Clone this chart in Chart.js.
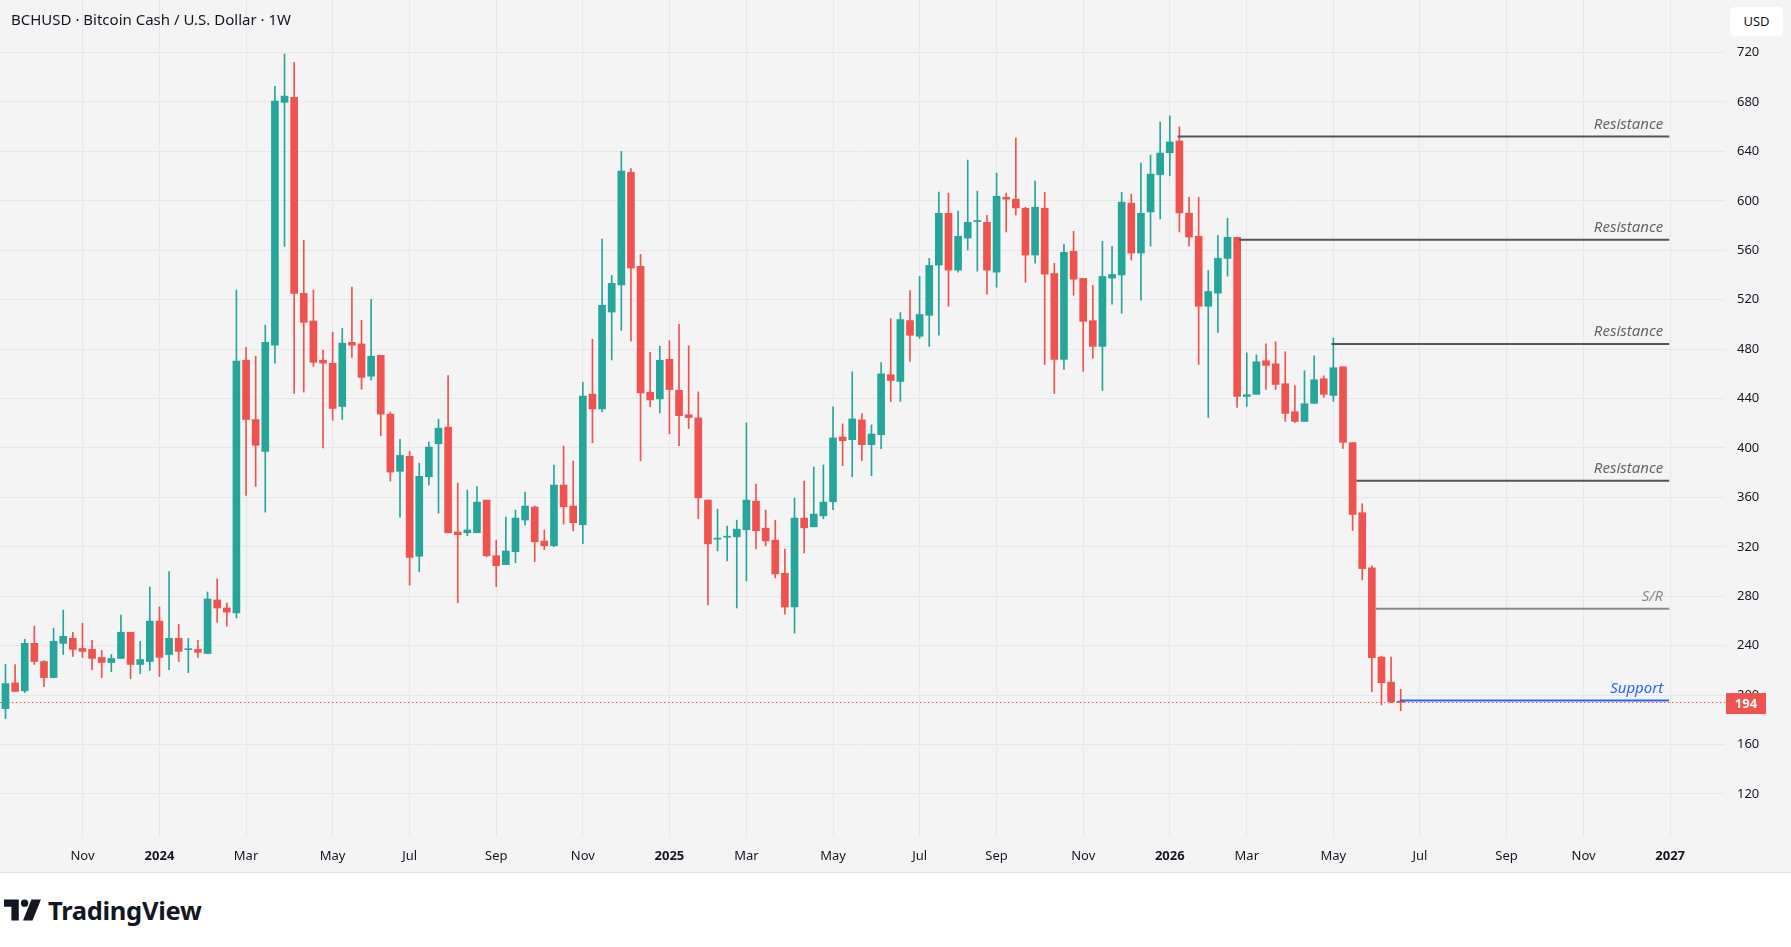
<!DOCTYPE html>
<html>
<head>
<meta charset="utf-8">
<title>BCHUSD 1W</title>
<script src="https://cdn.jsdelivr.net/npm/chart.js@4.4.1/dist/chart.umd.min.js"></script>
<style>
  html, body { margin: 0; padding: 0; background: #fff; }
  body { width: 1791px; height: 947px; overflow: hidden; font-family: "Noto Sans", "DejaVu Sans", sans-serif; }
  #wrap { position: relative; width: 1791px; height: 872px; background: #f4f4f4; border-bottom: 1px solid #e2e2e2; }
  #chart { position: absolute; left: 0; top: 0; }
  #title { position: absolute; left: 11px; top: 9px; font-size: 15px; color: #131722; white-space: nowrap; }
  #unit { position: absolute; left: 1730px; top: 7px; width: 53px; height: 29px; background: #fff; border-radius: 5px;
          font-size: 13px; line-height: 29px; text-align: center; color: #131722; }
  #brand { position: absolute; left: 4px; top: 895px; height: 30px; display: flex; align-items: center; gap: 6px; }
  #brand span { font-size: 25.5px; font-weight: 700; color: #131722; letter-spacing: -0.3px; }
</style>
</head>
<body>
<div id="wrap">
  <canvas id="chart" width="1791" height="872"></canvas>
  <div id="title">BCHUSD · Bitcoin Cash / U.S. Dollar · 1W</div>
  <div id="unit">USD</div>
</div>
<div id="brand">
  <svg width="38" height="26" viewBox="0 0 36 24"><path d="M0 2h14v20H7V9H0z" fill="#131722"/><circle cx="19.5" cy="5.5" r="3.5" fill="#131722"/><path d="M26 2h9l-8 20h-9z" fill="#131722"/></svg>
  <span>TradingView</span>
</div>

<script>
// weekly candles, first bar = week of 2023-09-11
const startDate = '2023-09-11';

const opens = [
  189.1, 209.9, 203.5, 241.9, 227.2, 214.2, 241.9, 246.0, 237.8, 237.0,
  230.5, 226.4, 229.7, 250.9, 224.8, 227.2, 259.9, 232.9, 246.0, 236.8,
  237.0, 233.7, 277.0, 270.5, 266.5, 471.0, 423.0, 397.3, 483.2, 679.7,
  683.7, 525.1, 502.7, 471.0, 468.6, 433.6, 485.5, 484.2, 458.1, 474.9,
  427.4, 381.1, 393.3, 312.4, 376.7, 403.4, 416.8, 332.0, 331.4, 331.4,
  357.8, 312.8, 305.6, 316.1, 341.7, 352.2, 324.7, 320.9, 370.0, 353.0,
  337.9, 443.5, 431.6, 510.0, 531.9, 623.0, 546.9, 445.1, 439.7, 471.8,
  446.7, 426.8, 424.3, 357.8, 326.2, 327.8, 328.1, 333.8, 357.0, 335.1,
  325.4, 298.6, 271.3, 343.2, 336.2, 345.1, 356.5, 408.9, 406.7, 422.7,
  402.7, 410.8, 459.2, 453.8, 503.1, 490.4, 507.4, 548.0, 589.9, 543.9,
  569.9, 583.2, 582.6, 542.3, 602.9, 601.3, 594.0, 556.1, 594.0, 541.2,
  471.7, 559.1, 537.2, 503.0, 482.2, 537.4, 540.0, 598.1, 557.7, 591.0,
  621.1, 638.9, 648.4, 590.0, 571.3, 514.7, 525.3, 553.4, 570.5, 441.7,
  443.4, 470.6, 468.1, 452.0, 429.3, 421.5, 436.1, 456.0, 442.5, 465.7,
  404.3, 347.6, 303.0, 230.8, 210.5, 195.1
];
const highs = [
  224.8, 224.8, 245.2, 255.8, 228.0, 254.2, 268.8, 250.9, 258.2, 244.4,
  236.2, 232.9, 264.8, 250.9, 243.5, 287.6, 271.3, 299.9, 257.4, 246.0,
  244.4, 283.5, 294.1, 274.6, 527.8, 481.5, 474.3, 499.4, 692.6, 718.7,
  712.1, 568.1, 527.8, 479.2, 493.7, 496.7, 530.1, 503.3, 520.2, 474.9,
  429.0, 406.9, 397.3, 387.7, 404.7, 423.3, 458.5, 371.6, 365.9, 368.8,
  357.8, 325.5, 344.1, 349.7, 364.3, 353.0, 333.6, 386.1, 401.5, 389.3,
  453.2, 487.9, 569.0, 539.7, 640.0, 626.0, 556.6, 477.4, 482.3, 486.8,
  500.1, 482.7, 445.4, 357.8, 350.5, 336.7, 341.6, 420.3, 370.8, 349.7,
  341.6, 318.1, 359.4, 373.2, 384.6, 386.2, 433.2, 419.5, 461.6, 427.6,
  418.7, 469.0, 504.7, 509.6, 527.4, 538.8, 553.4, 607.0, 606.2, 591.6,
  633.0, 607.8, 588.3, 622.4, 606.2, 650.8, 594.8, 615.9, 607.0, 549.4,
  564.8, 575.3, 537.2, 531.5, 567.2, 563.2, 607.0, 605.4, 630.5, 637.0,
  663.8, 668.7, 659.8, 602.9, 602.9, 543.7, 572.1, 585.9, 570.5, 477.0,
  475.4, 484.3, 485.9, 477.8, 450.4, 462.5, 474.6, 458.4, 489.1, 465.7,
  404.3, 354.9, 304.6, 231.6, 230.8, 204.8
];
const lows = [
  181.0, 203.0, 202.0, 224.8, 206.8, 214.2, 232.9, 231.3, 230.5, 220.7,
  214.2, 219.0, 229.7, 213.3, 217.4, 219.9, 215.0, 220.7, 227.2, 218.2,
  230.5, 233.7, 259.0, 255.8, 262.5, 361.6, 368.9, 348.1, 468.6, 563.1,
  444.2, 445.2, 466.0, 400.0, 422.4, 423.1, 473.3, 447.5, 454.8, 409.8,
  373.2, 344.1, 289.0, 300.0, 370.2, 347.3, 331.4, 274.8, 329.0, 331.4,
  312.0, 287.8, 305.6, 307.2, 337.6, 308.0, 317.7, 320.1, 338.4, 333.0,
  322.5, 404.2, 429.2, 471.2, 495.2, 486.4, 389.6, 433.3, 428.4, 411.5,
  401.8, 415.7, 342.7, 273.0, 316.7, 308.6, 270.5, 292.4, 318.4, 320.8,
  294.8, 265.6, 250.2, 315.1, 336.2, 342.7, 350.0, 385.7, 376.7, 389.7,
  377.5, 399.4, 437.6, 437.6, 470.1, 488.7, 482.2, 491.2, 514.7, 542.3,
  560.2, 543.1, 524.5, 530.1, 574.8, 588.6, 534.2, 549.6, 467.6, 444.1,
  463.6, 523.6, 462.0, 472.5, 446.5, 516.3, 509.0, 552.1, 519.6, 563.4,
  585.3, 620.2, 574.8, 563.4, 467.6, 424.6, 493.6, 539.1, 432.8, 433.7,
  443.4, 447.4, 447.4, 421.5, 420.7, 421.5, 436.1, 440.9, 437.7, 399.7,
  333.2, 293.2, 202.7, 192.1, 193.8, 187.3
];
const closes = [
  209.3, 203.0, 241.9, 227.2, 214.2, 243.5, 247.6, 237.0, 235.4, 229.7,
  226.4, 229.7, 250.9, 224.8, 228.8, 259.9, 230.5, 246.0, 235.4, 237.3,
  234.6, 277.8, 270.5, 267.2, 470.3, 423.0, 402.2, 485.5, 680.7, 684.7,
  525.1, 501.7, 469.3, 468.6, 432.0, 484.8, 483.2, 457.1, 474.3, 427.4,
  380.5, 394.0, 311.4, 377.1, 400.7, 416.0, 331.4, 329.8, 333.6, 356.2,
  312.8, 304.8, 316.6, 343.3, 353.0, 324.1, 320.9, 370.0, 352.4, 339.5,
  441.9, 431.6, 515.4, 533.2, 624.0, 545.6, 444.6, 438.9, 471.0, 447.3,
  426.2, 424.6, 359.7, 322.4, 326.8, 328.3, 334.3, 357.8, 333.0, 324.8,
  298.1, 271.3, 343.2, 335.4, 346.5, 356.2, 408.1, 405.9, 423.5, 402.7,
  411.3, 460.0, 454.6, 503.9, 491.2, 508.0, 547.7, 589.9, 543.9, 571.3,
  582.6, 583.7, 543.9, 603.7, 601.3, 594.3, 556.1, 594.8, 540.7, 471.7,
  558.3, 536.6, 502.5, 482.2, 538.8, 540.4, 598.9, 557.7, 589.9, 621.6,
  638.6, 647.6, 590.2, 570.7, 514.7, 526.6, 553.4, 570.5, 441.7, 443.1,
  469.8, 466.8, 451.4, 428.0, 421.5, 435.8, 455.2, 443.4, 464.9, 404.6,
  346.2, 302.4, 230.3, 210.0, 194.6, 194.0
];

// price axis and time axis labels
const yTicks = [120, 160, 200, 240, 280, 320, 360, 400, 440, 480, 520, 560, 600, 640, 680, 720];
const xTicks = [
  ['2023-11-06', 'Nov'], ['2024-01-01', '2024'], ['2024-03-04', 'Mar'], ['2024-05-06', 'May'],
  ['2024-07-01', 'Jul'], ['2024-09-02', 'Sep'], ['2024-11-04', 'Nov'], ['2025-01-06', '2025'],
  ['2025-03-03', 'Mar'], ['2025-05-05', 'May'], ['2025-07-07', 'Jul'], ['2025-09-01', 'Sep'],
  ['2025-11-03', 'Nov'], ['2026-01-05', '2026'], ['2026-03-02', 'Mar'], ['2026-05-04', 'May'],
  ['2026-07-06', 'Jul'], ['2026-09-07', 'Sep'], ['2026-11-02', 'Nov'], ['2027-01-04', '2027']
];

// drawn levels (price, first bar they start from)
const levelNames = ['Resistance', 'Resistance', 'Resistance', 'Resistance', 'S/R', 'Support'];
const levelPrices = [652.0, 568.4, 484.2, 373.4, 269.8, 195.6];
const levelFrom = [121.8, 128.2, 137.8, 140.4, 142.4, 144.9];
const levelEnd = 172.9;

const up = '#26a69a';
const down = '#ef5350';
const levelLine = ['#555555', '#555555', '#555555', '#555555', '#888888', '#2962ff'];
const levelText = ['#666666', '#666666', '#666666', '#666666', '#8c8c8c', '#2962ff'];
const xMin = -0.57, xMax = 178.7;

const weekMs = 7 * 24 * 3600 * 1000;
function weekIndex(d) {
  return Math.round((Date.parse(d) - Date.parse(startDate)) / weekMs);
}
const xTickIdx = xTicks.map(t => weekIndex(t[0]));
const xTickName = {};
xTicks.forEach((t, k) => { xTickName[xTickIdx[k]] = t[1]; });

const colors = closes.map((c, i) => (c >= opens[i] ? up : down));
const bodies = opens.map((o, i) => ({ x: i, y: [o, closes[i]] }));
const wicks = lows.map((l, i) => ({ x: i, y: [l, highs[i]] }));
const lastClose = closes[closes.length - 1];

const datasets = [
  {
    type: 'bar', data: bodies, backgroundColor: colors, barThickness: 7,
    grouped: false, minBarLength: 1, order: 2
  },
  {
    type: 'bar', data: wicks, backgroundColor: colors, barThickness: 1,
    grouped: false, order: 3
  },
  {
    type: 'line', data: [{ x: xMin, y: lastClose }, { x: xMax, y: lastClose }],
    borderColor: down, borderWidth: 1, borderDash: [1.5, 2.5], pointRadius: 0, order: 4
  }
];
levelPrices.forEach((p, k) => {
  datasets.push({
    type: 'line', data: [{ x: levelFrom[k], y: p }, { x: levelEnd, y: p }],
    borderColor: levelLine[k], borderWidth: 2, pointRadius: 0, order: 1
  });
});

const overlay = {
  id: 'overlay',
  afterDraw(chart) {
    const { ctx, chartArea } = chart;
    const x = chart.scales.x, y = chart.scales.y;
    ctx.save();
    ctx.font = 'italic 15px "Noto Sans"';
    ctx.textAlign = 'right';
    ctx.textBaseline = 'alphabetic';
    levelNames.forEach((name, k) => {
      ctx.fillStyle = levelText[k];
      ctx.fillText(name, x.getPixelForValue(levelEnd) - 6, y.getPixelForValue(levelPrices[k]) - 8);
    });
    // last price tag on the scale
    const py = y.getPixelForValue(lastClose);
    ctx.fillStyle = down;
    ctx.fillRect(chartArea.right + 1, py - 9.5, 40, 21);
    ctx.fillStyle = '#fff';
    ctx.font = 'bold 13px "Noto Sans"';
    ctx.textAlign = 'center';
    ctx.textBaseline = 'middle';
    ctx.fillText(String(Math.round(lastClose)), chartArea.right + 21, py + 1.5);
    ctx.restore();
  }
};

new Chart(document.getElementById('chart'), {
  type: 'bar',
  data: { datasets },
  options: {
    responsive: false,
    animation: false,
    devicePixelRatio: 1,
    layout: { padding: 0, autoPadding: false },
    plugins: { legend: { display: false }, tooltip: { enabled: false } },
    scales: {
      x: {
        type: 'linear', min: xMin, max: xMax, offset: false,
        grid: { color: '#e7e7e7', drawTicks: false, offset: false },
        border: { display: false },
        afterBuildTicks: axis => { axis.ticks = xTickIdx.map(v => ({ value: v })); },
        afterFit: s => { s.height = 35; s.paddingLeft = 0; s.paddingRight = 0; },
        ticks: {
          autoSkip: false, maxRotation: 0, padding: 11, color: '#131722',
          font: c => ({ family: 'Noto Sans', size: 13, weight: /^\d{4}$/.test(xTickName[c.tick ? c.tick.value : -1] || '') ? 'bold' : 'normal' }),
          callback: v => xTickName[v] || ''
        }
      },
      y: {
        position: 'right', min: 85.2, max: 762.5,
        grid: { color: '#e7e7e7', drawTicks: false },
        border: { display: false },
        afterBuildTicks: axis => { axis.ticks = yTicks.map(v => ({ value: v })); },
        afterFit: s => { s.width = 66; s.paddingTop = 0; s.paddingBottom = 0; },
        ticks: { padding: 12, color: '#131722', font: { family: 'Noto Sans', size: 13 } }
      }
    }
  },
  plugins: [overlay]
});
</script>
</body>
</html>
